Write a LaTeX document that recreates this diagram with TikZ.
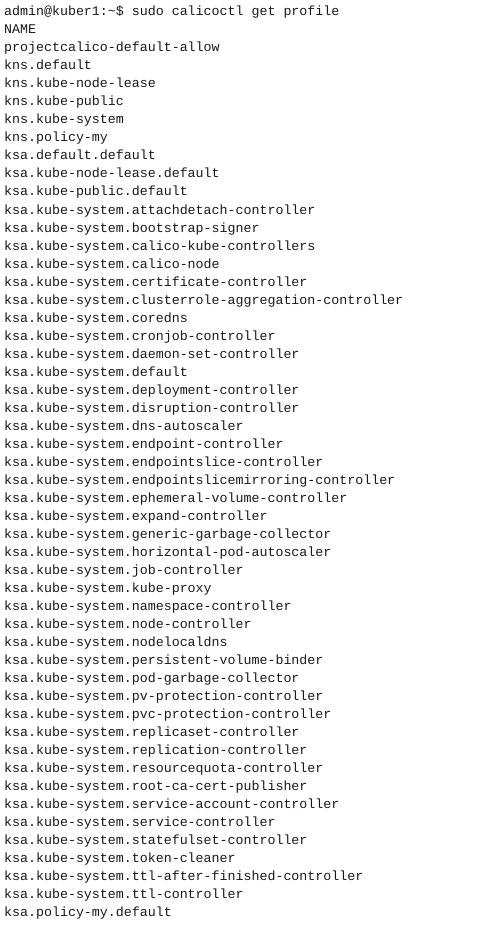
\documentclass[tikz,border=0pt]{standalone}
\usepackage{fontspec}
\setmonofont{Liberation Mono}
\definecolor{termtext}{RGB}{25,25,25}
\tikzset{
  termline/.style={anchor=base west, inner sep=0pt, text=termtext,
    font=\fontsize{13.3}{16}\ttfamily},
}
\begin{document}
\begin{tikzpicture}[x=1pt,y=-1pt]
                \useasboundingbox (0,0) rectangle (491,936);

                \node[termline] (prompt) at (4,16) {admin@kuber1:\textasciitilde\$ sudo calicoctl get profile};

                \foreach \name [count=\i from 1] in {NAME,
                    projectcalico-default-allow,
                    kns.default, kns.kube-node-lease, kns.kube-public,
                    kns.kube-system, kns.policy-my,
                    ksa.default.default, ksa.kube-node-lease.default,
                    ksa.kube-public.default,
                    ksa.kube-system.attachdetach-controller,
                    ksa.kube-system.bootstrap-signer,
                    ksa.kube-system.calico-kube-controllers,
                    ksa.kube-system.calico-node,
                    ksa.kube-system.certificate-controller,
                    ksa.kube-system.clusterrole-aggregation-controller,
                    ksa.kube-system.coredns,
                    ksa.kube-system.cronjob-controller,
                    ksa.kube-system.daemon-set-controller,
                    ksa.kube-system.default,
                    ksa.kube-system.deployment-controller,
                    ksa.kube-system.disruption-controller,
                    ksa.kube-system.dns-autoscaler,
                    ksa.kube-system.endpoint-controller,
                    ksa.kube-system.endpointslice-controller,
                    ksa.kube-system.endpointslicemirroring-controller,
                    ksa.kube-system.ephemeral-volume-controller,
                    ksa.kube-system.expand-controller,
                    ksa.kube-system.generic-garbage-collector,
                    ksa.kube-system.horizontal-pod-autoscaler,
                    ksa.kube-system.job-controller,
                    ksa.kube-system.kube-proxy,
                    ksa.kube-system.namespace-controller,
                    ksa.kube-system.node-controller,
                    ksa.kube-system.nodelocaldns,
                    ksa.kube-system.persistent-volume-binder,
                    ksa.kube-system.pod-garbage-collector,
                    ksa.kube-system.pv-protection-controller,
                    ksa.kube-system.pvc-protection-controller,
                    ksa.kube-system.replicaset-controller,
                    ksa.kube-system.replication-controller,
                    ksa.kube-system.resourcequota-controller,
                    ksa.kube-system.root-ca-cert-publisher,
                    ksa.kube-system.service-account-controller,
                    ksa.kube-system.service-controller,
                    ksa.kube-system.statefulset-controller,
                    ksa.kube-system.token-cleaner,
                    ksa.kube-system.ttl-after-finished-controller,
                    ksa.kube-system.ttl-controller,
                    ksa.policy-my.default}
                    \node[termline] (line\i) at (4,16+18*\i) {\name};
            \end{tikzpicture}
\end{document}
